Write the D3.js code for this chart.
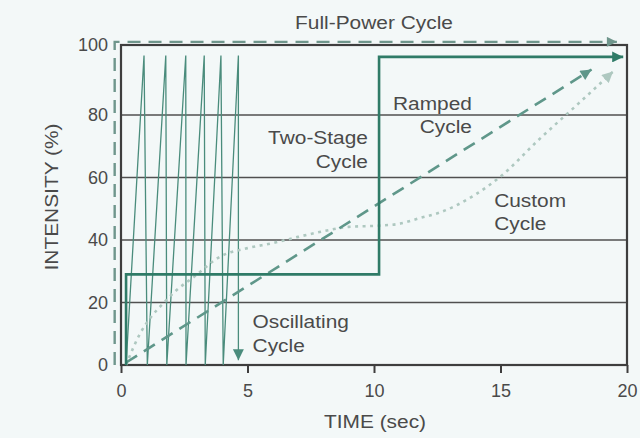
<!DOCTYPE html>
<html>
<head>
<meta charset="utf-8">
<script src="https://cdn.jsdelivr.net/npm/d3@7"></script>
<style>
  html, body { margin: 0; padding: 0; background: #f3f8f8; }
  svg { display: block; }
  text { font-family: "Liberation Sans", Arial, Helvetica, sans-serif; fill: #4a4a4a; }
</style>
</head>
<body>
<svg id="chart" width="640" height="438"></svg>
<script>
// ---- data (time in seconds, intensity in %) ----
const xTicks = [0, 5, 10, 15, 20];
const yTicks = [0, 20, 40, 60, 80, 100];
const gridValues = [20, 40, 60, 80];

const fullPowerT = [-0.25, -0.25, 19.6];
const fullPowerV = [0, 100.9, 100.9];

const twoStageT = [0.2, 0.2, 10.2, 10.2, 19.85];
const twoStageV = [0, 29, 29, 96.6, 96.6];

const oscillatingT = [0.2, 0.91, 1.04, 1.77, 1.81, 2.56, 2.57, 3.29, 3.33, 3.95, 4.04, 4.64, 4.64];
const oscillatingV = [0, 97, 0, 97, 0, 97, 0, 97, 0, 97, 0, 97, 1.5];

const rampedT = [0.2, 18.6];
const rampedV = [0.8, 93];

const customT = [0.2, 0.75, 1.2, 1.7, 2.2, 2.9, 3.9, 5.0, 6.0, 7.0, 8.0, 9.0, 10.2, 11.0, 11.8, 12.6, 14.0, 15.0, 16.5, 18.1, 19.45];
const customV = [0, 10, 15.5, 20, 24, 28.3, 34.6, 37.4, 39, 41, 42.8, 44.2, 44.6, 45.2, 47, 48.8, 54.5, 60.3, 72, 83.4, 92.4];

const labels = [
  { lines: ["Two-Stage", "Cycle"], t: 9.76, v: 70.7, anchor: "end" },
  { lines: ["Ramped", "Cycle"], t: 13.87, v: 81.5, anchor: "end" },
  { lines: ["Custom", "Cycle"], t: 14.75, v: 50.6, anchor: "start" },
  { lines: ["Oscillating", "Cycle"], t: 5.2, v: 11.8, anchor: "start" }
];
const titleText = "Full-Power Cycle";
const xTitle = "TIME (sec)";
const yTitle = "INTENSITY (%)";

// ---- drawing ----
const svg = d3.select("#chart");
const x = d3.scaleLinear().domain([0, 20]).range([121, 627]);
const y = d3.scaleLinear().domain([0, 80, 100]).range([365, 115, 45]);

const C = {
  frame: "#3e3e3e",
  grid: "#505050",
  full: "#6f968c",
  two: "#2f7b67",
  osc: "#4a8c7c",
  ramp: "#5f978a",
  custom: "#aec8c0"
};

const defs = svg.append("defs");
function marker(id, color, w, h) {
  defs.append("marker")
    .attr("id", id)
    .attr("viewBox", "0 0 10 10")
    .attr("refX", 10).attr("refY", 5)
    .attr("markerUnits", "userSpaceOnUse")
    .attr("markerWidth", w).attr("markerHeight", h)
    .attr("orient", "auto")
    .append("path").attr("d", "M0,0L10,5L0,10Z")
    .attr("fill", color).attr("stroke", "none");
}
marker("mFull", C.full, 11, 10);
marker("mTwo", C.two, 12, 11);
marker("mOsc", C.osc, 11, 13);
marker("mRamp", C.ramp, 12, 11);
marker("mCustom", C.custom, 12, 11);

// gridlines
svg.append("g").selectAll("line").data(gridValues).join("line")
  .attr("x1", x(0)).attr("x2", x(20))
  .attr("y1", d => y(d)).attr("y2", d => y(d))
  .attr("stroke", C.grid).attr("stroke-width", 1.4);

// x axis
const xAxis = svg.append("g").attr("transform", `translate(0,${y(0)})`)
  .call(d3.axisBottom(x).tickValues(xTicks).tickSize(8).tickPadding(11).tickFormat(d3.format("d")));
xAxis.select(".domain").remove();
xAxis.selectAll("line").attr("stroke", C.frame).attr("stroke-width", 2);
xAxis.selectAll("text").attr("font-size", 18).attr("fill", "#4a4a4a")
  .style("font-family", "'Liberation Sans', Arial, sans-serif");

// y axis
const yAxis = svg.append("g").attr("transform", `translate(${x(0)},0)`)
  .call(d3.axisLeft(y).tickValues(yTicks).tickSize(0).tickPadding(13).tickFormat(d3.format("d")));
yAxis.select(".domain").remove();
yAxis.selectAll("text").attr("font-size", 18).attr("fill", "#4a4a4a")
  .style("font-family", "'Liberation Sans', Arial, sans-serif");

// frame
svg.append("rect")
  .attr("x", x(0)).attr("y", y(100))
  .attr("width", x(20) - x(0)).attr("height", y(0) - y(100))
  .attr("fill", "none").attr("stroke", C.frame).attr("stroke-width", 2.2);

const line = d3.line().x(d => x(d[0])).y(d => y(d[1]));
const zip = (a, b) => a.map((d, i) => [d, b[i]]);

// oscillating
svg.append("path").datum(zip(oscillatingT, oscillatingV))
  .attr("d", line).attr("fill", "none")
  .attr("stroke", C.osc).attr("stroke-width", 1.3)
  .attr("stroke-linejoin", "miter")
  .attr("marker-end", "url(#mOsc)");

// custom (dotted)
svg.append("path").datum(zip(customT, customV))
  .attr("d", d3.line().x(d => x(d[0])).y(d => y(d[1])).curve(d3.curveMonotoneX))
  .attr("fill", "none").attr("stroke", C.custom).attr("stroke-width", 2.6)
  .attr("stroke-dasharray", "3,4.5")
  .attr("marker-end", "url(#mCustom)");

// ramped (dashed)
svg.append("path").datum(zip(rampedT, rampedV))
  .attr("d", line).attr("fill", "none")
  .attr("stroke", C.ramp).attr("stroke-width", 2.6)
  .attr("stroke-dasharray", "13,8")
  .attr("marker-end", "url(#mRamp)");

// full power (dashed)
svg.append("path").datum(zip(fullPowerT, fullPowerV))
  .attr("d", line).attr("fill", "none")
  .attr("stroke", C.full).attr("stroke-width", 2.4)
  .attr("stroke-dasharray", "13,8")
  .attr("marker-end", "url(#mFull)");

// two-stage
svg.append("path").datum(zip(twoStageT, twoStageV))
  .attr("d", line).attr("fill", "none")
  .attr("stroke", C.two).attr("stroke-width", 2.6)
  .attr("stroke-linejoin", "miter")
  .attr("marker-end", "url(#mTwo)");

// text helper with slight horizontal stretch
const SX = 1.13;
function stretchedText(px, py, str, anchor, size, rotate) {
  const g = svg.append("g")
    .attr("transform", `translate(${px},${py})` + (rotate ? ` rotate(${rotate})` : "") + ` scale(${SX},1)`);
  g.append("text").attr("x", 0).attr("y", 0)
    .attr("text-anchor", anchor).attr("font-size", size).text(str);
}

// annotation labels
labels.forEach(l => {
  l.lines.forEach((s, i) => {
    stretchedText(x(l.t), y(l.v) + i * 23.5, s, l.anchor, 18.5);
  });
});

// titles
stretchedText(374, 29, titleText, "middle", 18.5);
stretchedText(375, 428, xTitle, "middle", 18.5);
stretchedText(58, 197, yTitle, "middle", 18.5, -90);
</script>
</body>
</html>
